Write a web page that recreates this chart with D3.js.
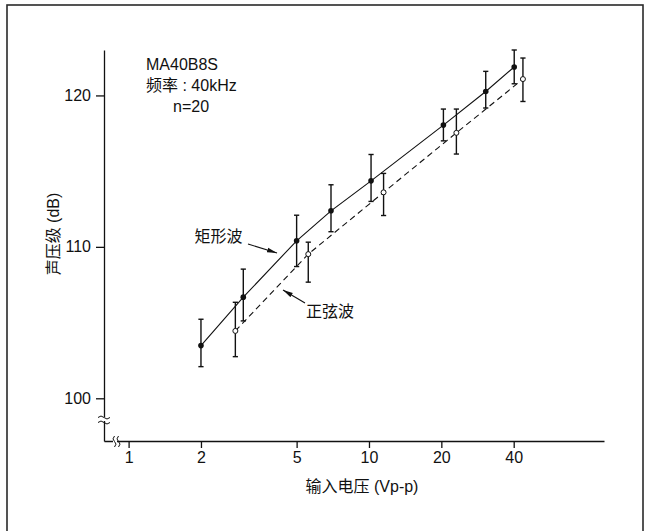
<!DOCTYPE html>
<html>
<head>
<meta charset="utf-8">
<script src="https://cdn.jsdelivr.net/npm/d3@7"></script>
<style>
  body { margin: 0; background: #fff; }
  svg { display: block; }
  text { font-family: "Liberation Sans", Arial, "Noto Sans CJK SC", sans-serif; fill: #111; }
</style>
</head>
<body>
<div id="chart"></div>
<script>
// 矩形波 (filled points)
var rectX = [2, 3, 5, 6.95, 10.2, 20.4, 30.6, 40.2];
var rectY = [103.48, 106.68, 110.40, 112.38, 114.36, 118.04, 120.26, 121.88];
var rectHi = [105.22, 108.53, 112.09, 114.1, 116.1, 119.1, 121.59, 123.0];
var rectLo = [102.09, 105.11, 108.70, 111.0, 113.0, 117.0, 119.17, 120.77];

// 正弦波 (open points)
var sineX = [2.78, 5.59, 11.5, 23.1, 43.7];
var sineY = [104.45, 109.52, 113.6, 117.53, 121.08];
var sineHi = [106.34, 110.31, 114.85, 119.1, 122.47];
var sineLo = [102.75, 107.67, 112.07, 116.13, 119.6];

var xTicks = [1, 2, 5, 10, 20, 40];
var yTicks = [100, 110, 120];

var width = 645, height = 531;

var svg = d3.select("#chart").append("svg")
    .attr("width", width)
    .attr("height", height);

// frame
svg.append("rect")
    .attr("x", 7)
    .attr("y", 5)
    .attr("width", 636)
    .attr("height", 540)
    .style("fill", "none")
    .style("stroke", "#2a2a2a")
    .style("stroke-width", "1.6px");

var x = d3.scaleLog().domain([0.79, 95]).range([104, 604]);
var y = d3.scaleLinear().domain([97.18, 123.0]).range([441, 50]);

// axes
var xAxis = svg.append("g")
    .attr("transform", "translate(0,441)")
    .call(d3.axisBottom(x).tickValues(xTicks).tickFormat(d3.format("d")).tickSize(7).tickSizeOuter(0).tickPadding(4));

var yAxis = svg.append("g")
    .attr("transform", "translate(104,0)")
    .call(d3.axisLeft(y).tickValues(yTicks).tickSize(8).tickSizeOuter(0).tickPadding(5));

svg.selectAll(".domain, .tick line")
    .style("stroke", "#111")
    .style("stroke-width", "1.3px");
svg.selectAll(".tick text")
    .style("font-size", "16px")
    .style("fill", "#111")
    .style("font-family", "'Liberation Sans', Arial, sans-serif");

// axis breaks
svg.append("rect")
    .attr("x", 100)
    .attr("y", 417)
    .attr("width", 8)
    .attr("height", 4)
    .style("fill", "#fff");
[416.5, 421.5].forEach(function(yy) {
    svg.append("path")
        .attr("d", "M98," + (yy + 1) + " q3,-3 6,0 t6,0")
        .style("fill", "none")
        .style("stroke", "#111")
        .style("stroke-width", "1px");
});
svg.append("rect")
    .attr("x", 113)
    .attr("y", 437)
    .attr("width", 4)
    .attr("height", 8)
    .style("fill", "#fff");
[113.5, 117.5].forEach(function(xx) {
    svg.append("path")
        .attr("d", "M" + (xx + 1) + ",436 q-3,3 0,5.5 t0,5.5")
        .style("fill", "none")
        .style("stroke", "#111")
        .style("stroke-width", "1px");
});

// lines
var line = d3.line()
    .x(function(d) { return x(d[0]); })
    .y(function(d) { return y(d[1]); });

svg.append("path")
    .datum(d3.zip(rectX, rectY))
    .attr("d", line)
    .style("fill", "none")
    .style("stroke", "#111")
    .style("stroke-width", "1.1px");

svg.append("path")
    .datum(d3.zip(sineX, sineY))
    .attr("d", line)
    .style("fill", "none")
    .style("stroke", "#111")
    .style("stroke-width", "1.1px")
    .style("stroke-dasharray", "6,4");

// error bars
function errorBars(xs, his, los) {
    var g = svg.append("g");
    xs.forEach(function(v, i) {
        var cx = x(v);
        g.append("line")
            .attr("x1", cx).attr("x2", cx)
            .attr("y1", y(his[i])).attr("y2", y(los[i]))
            .style("stroke", "#111")
            .style("stroke-width", "1.4px");
        [his[i], los[i]].forEach(function(e) {
            g.append("line")
                .attr("x1", cx - 2.6).attr("x2", cx + 2.6)
                .attr("y1", y(e)).attr("y2", y(e))
                .style("stroke", "#111")
                .style("stroke-width", "1.4px");
        });
    });
}
errorBars(rectX, rectHi, rectLo);
errorBars(sineX, sineHi, sineLo);

// markers
svg.selectAll(".rectPt")
    .data(d3.zip(rectX, rectY))
    .enter().append("circle")
    .attr("class", "rectPt")
    .attr("cx", function(d) { return x(d[0]); })
    .attr("cy", function(d) { return y(d[1]); })
    .attr("r", 2.8)
    .style("fill", "#111");

svg.selectAll(".sinePt")
    .data(d3.zip(sineX, sineY))
    .enter().append("circle")
    .attr("class", "sinePt")
    .attr("cx", function(d) { return x(d[0]); })
    .attr("cy", function(d) { return y(d[1]); })
    .attr("r", 2.5)
    .style("fill", "#fff")
    .style("stroke", "#111")
    .style("stroke-width", "1px");

// arrowheads
svg.append("defs").append("marker")
    .attr("id", "arrow")
    .attr("viewBox", "0 0 10 6")
    .attr("refX", 10)
    .attr("refY", 3)
    .attr("markerWidth", 10)
    .attr("markerHeight", 6)
    .attr("markerUnits", "userSpaceOnUse")
    .attr("orient", "auto")
    .append("path")
    .attr("d", "M0,0.6 L10,3 L0,5.4 Z")
    .style("fill", "#111");

svg.append("line")
    .attr("x1", 248).attr("y1", 244)
    .attr("x2", 277).attr("y2", 253)
    .style("stroke", "#111")
    .style("stroke-width", "1.1px")
    .attr("marker-end", "url(#arrow)");

svg.append("line")
    .attr("x1", 305).attr("y1", 303)
    .attr("x2", 283).attr("y2", 290)
    .style("stroke", "#111")
    .style("stroke-width", "1.1px")
    .attr("marker-end", "url(#arrow)");

// labels
svg.append("text")
    .attr("x", 218.5)
    .attr("y", 236)
    .text("矩形波")
    .style("font-size", "16px")
    .attr("text-anchor", "middle")
    .attr("dominant-baseline", "central");

svg.append("text")
    .attr("x", 330)
    .attr("y", 311)
    .text("正弦波")
    .style("font-size", "16px")
    .attr("text-anchor", "middle")
    .attr("dominant-baseline", "central");

svg.append("text")
    .attr("x", 146)
    .attr("y", 64)
    .text("MA40B8S")
    .style("font-size", "16px")
    .attr("dominant-baseline", "central");

svg.append("text")
    .attr("x", 146)
    .attr("y", 85)
    .text("频率 : 40kHz")
    .style("font-size", "16px")
    .attr("dominant-baseline", "central");

svg.append("text")
    .attr("x", 173)
    .attr("y", 106)
    .text("n=20")
    .style("font-size", "16px")
    .attr("dominant-baseline", "central");

svg.append("text")
    .attr("x", 362)
    .attr("y", 486)
    .text("输入电压 (Vp-p)")
    .style("font-size", "16px")
    .attr("text-anchor", "middle")
    .attr("dominant-baseline", "central");

svg.append("text")
    .attr("transform", "translate(53,234) rotate(-90)")
    .text("声压级 (dB)")
    .style("font-size", "16px")
    .attr("text-anchor", "middle")
    .attr("dominant-baseline", "central");
</script>
</body>
</html>
